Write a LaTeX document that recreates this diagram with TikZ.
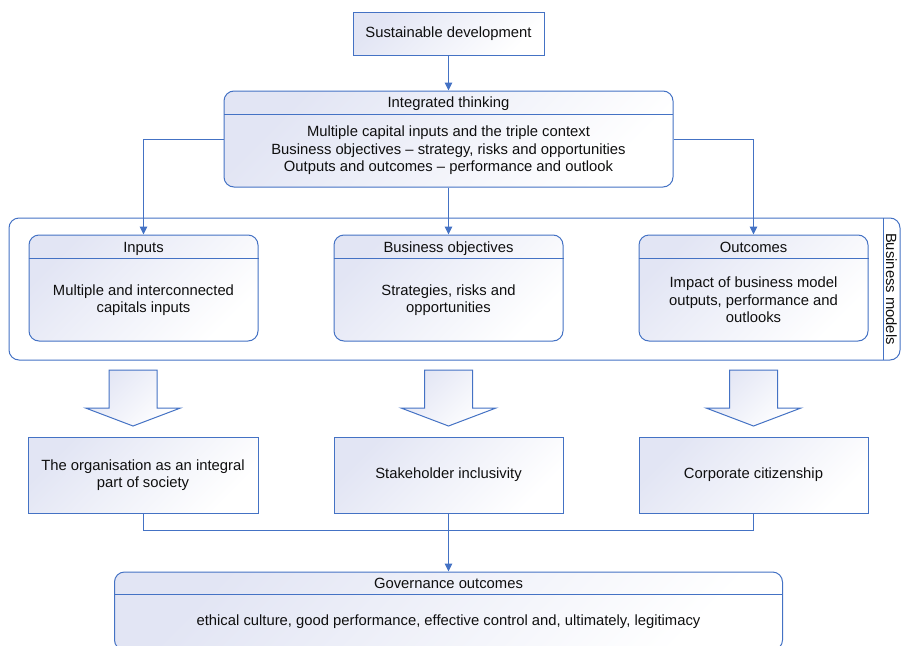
\documentclass[tikz,border=0pt]{standalone}
\usepackage{fontspec}
\setmainfont{Liberation Sans}
\usetikzlibrary{arrows.meta,calc}
\definecolor{edge}{RGB}{68,114,196}
\definecolor{gstart}{RGB}{226,229,244}
\definecolor{txt}{RGB}{15,15,15}
\begin{document}
\begin{tikzpicture}[x=1pt,y=-1pt,
  font=\fontsize{14.8}{17.5}\selectfont,
  box/.style={draw=edge, line width=1pt, top color=gstart, bottom color=white, shading angle=45, inner sep=0pt},
  rbox/.style={box, rounded corners=10pt},
  conn/.style={draw=edge, line width=1pt, -{Triangle[length=8pt,width=7.5pt]}},
  link/.style={draw=edge, line width=1pt},
  lbl/.style={align=center, inner sep=0pt, text=txt},
  ttl/.style={lbl, anchor=base},
]
\clip (0,0) rectangle (901,645);

% Sustainable development
\node[box, minimum width=191pt, minimum height=43pt, text=txt] (sd) at (448.5,33.5) {Sustainable development};

% Integrated thinking
\node[rbox, minimum width=449pt, minimum height=96pt] (it) at (448.5,139) {};
\coordinate (itl) at (224,114);
\coordinate (itr) at (673,114);
\draw[link] (itl) -- (itr);
\node[ttl] (itt) at (448.5,107.5) {Integrated thinking};
\node[lbl] (itb) at (448.5,150.5) {Multiple capital inputs and the triple context\\Business objectives -- strategy, risks and opportunities\\Outputs and outcomes -- performance and outlook};

% Business models container
\node[draw=edge, line width=1pt, rounded corners=10pt, minimum width=891pt, minimum height=142pt, inner sep=0pt] (bm) at (454.5,289) {};
\coordinate (bmt) at (883,218);
\coordinate (bmb) at (883,360);
\draw[link] (bmt) -- (bmb);
\node[lbl, rotate=-90] (bml) at (891.5,289) {Business models};

% Three inner boxes
\node[rbox, minimum width=229pt, minimum height=106pt] (in) at (143.5,288) {};
\node[rbox, minimum width=229pt, minimum height=106pt] (bo) at (448.5,288) {};
\node[rbox, minimum width=229pt, minimum height=106pt] (out) at (753.5,288) {};
\foreach \n in {in,bo,out}{
  \draw[link] ($(\n.west)+(0,-30)$) -- ($(\n.east)+(0,-30)$);
}
\node[ttl] (int) at (143.5,252.5) {Inputs};
\node[lbl] (inb) at (143.5,300) {Multiple and interconnected\\capitals inputs};
\node[ttl] (bot) at (448.5,252.5) {Business objectives};
\node[lbl] (bob) at (448.5,300) {Strategies, risks and\\opportunities};
\node[ttl] (outt) at (753.5,252.5) {Outcomes};
\node[lbl] (outb) at (753.5,300) {Impact of business model\\outputs, performance and\\outlooks};

% Connectors from integrated thinking
\draw[conn] (sd.south) -- (it.north);
\draw[conn] (it.west) -| (in.north);
\draw[conn] (it.south) -- (bo.north);
\draw[conn] (it.east) -| (out.north);

% Block arrows
\foreach \cx in {133,448.5,753.5}{
  \draw[box] (\cx-24,370) -- (\cx+24,370) -- (\cx+24,408) -- (\cx+47.5,408) -- (\cx,426) -- (\cx-47.5,408) -- (\cx-24,408) -- cycle;
}

% Bottom boxes
\node[box, minimum width=230pt, minimum height=76pt, align=center, text=txt] (b1) at (143,475) {The organisation as an integral\\part of society};
\node[box, minimum width=229pt, minimum height=76pt, text=txt] (b2) at (448.5,475) {Stakeholder inclusivity};
\node[box, minimum width=229pt, minimum height=76pt, text=txt] (b3) at (753.5,475) {Corporate citizenship};

% Governance outcomes
\node[rbox, minimum width=668pt, minimum height=78pt] (gov) at (448.5,611) {};
\draw[link] ($(gov.north west)+(0,23)$) -- ($(gov.north east)+(0,23)$);
\node[ttl] (govt) at (448.5,588.5) {Governance outcomes};
\node[lbl] (govb) at (448.5,622) {ethical culture, good performance, effective control and, ultimately, legitimacy};

% Bracket and final arrow
\draw[link] (b1.south) -- ++(0,17) -| (b3.south);
\draw[conn] (b2.south) -- (gov.north);
\end{tikzpicture}
\end{document}
